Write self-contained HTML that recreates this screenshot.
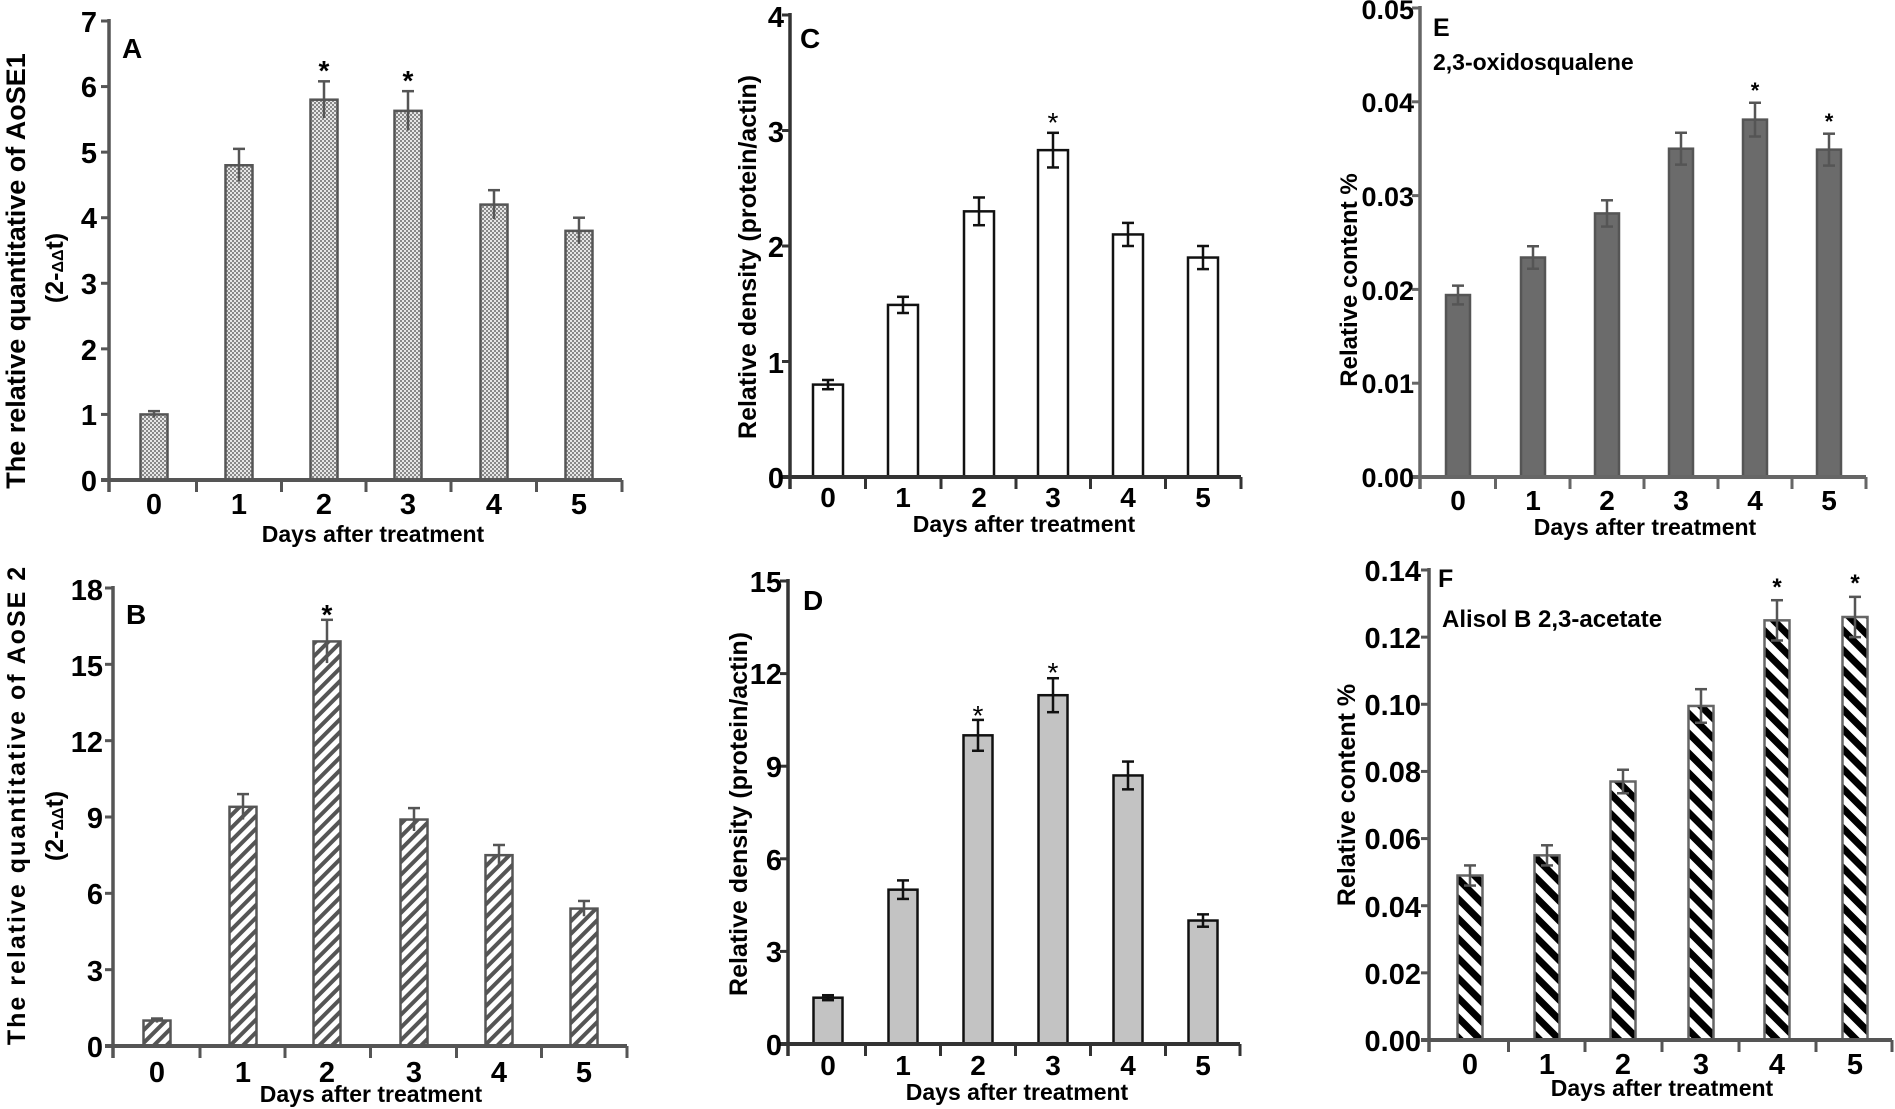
<!DOCTYPE html>
<html><head><meta charset="utf-8"><style>
html,body{margin:0;padding:0;background:#fff;}
svg{display:block;font-family:"Liberation Sans",sans-serif;font-weight:bold;}
.n{font-family:"Liberation Sans Narrow","Liberation Sans",sans-serif;}
</style></head><body>
<svg id="s" width="1895" height="1109" viewBox="0 0 1895 1109" xmlns="http://www.w3.org/2000/svg">
<defs>
<pattern id="chk" width="4" height="4" patternUnits="userSpaceOnUse"><rect width="4" height="4" fill="#e6e6e6"/><rect width="2" height="2" fill="#888"/><rect x="2" y="2" width="2" height="2" fill="#888"/></pattern>
<pattern id="hb" width="9" height="9" patternUnits="userSpaceOnUse" patternTransform="rotate(45)"><rect width="9" height="9" fill="#fff"/><rect width="4" height="9" fill="#555"/></pattern>
<pattern id="hf" width="14" height="14" patternUnits="userSpaceOnUse" patternTransform="rotate(-45)"><rect width="14" height="14" fill="#fff"/><rect width="7" height="14" fill="#000"/></pattern>
</defs>
<g id="g"></g>
<!-- Panel A texts -->
<text x="122" y="58" font-size="28">A</text>
<text x="373" y="542" font-size="23" text-anchor="middle">Days after treatment</text>
<text transform="translate(25,271) rotate(-90)" font-size="27" text-anchor="middle">The relative quantitative of AoSE1</text>
<text transform="translate(63,268) rotate(-90)" font-size="25" text-anchor="middle">(2-<tspan font-size="16">ΔΔ</tspan>t)</text>
<!-- B -->
<text x="126" y="624" font-size="28" class="n">B</text>
<text x="371" y="1102" font-size="23" text-anchor="middle" class="n">Days after treatment</text>
<text transform="translate(25,805) rotate(-90)" font-size="25" text-anchor="middle" letter-spacing="2">The relative quantitative of AoSE 2</text>
<text transform="translate(63,826) rotate(-90)" font-size="25" text-anchor="middle">(2-<tspan font-size="16">ΔΔ</tspan>t)</text>
<!-- C -->
<text x="800" y="48" font-size="28" class="n">C</text>
<text x="1024" y="532" font-size="23" text-anchor="middle" class="n">Days after treatment</text>
<text transform="translate(756,257) rotate(-90)" font-size="25" text-anchor="middle">Relative density (protein/actin)</text>
<!-- D -->
<text x="803" y="610" font-size="28" class="n">D</text>
<text x="1017" y="1100" font-size="23" text-anchor="middle" class="n">Days after treatment</text>
<text transform="translate(747,814) rotate(-90)" font-size="25" text-anchor="middle">Relative density (protein/actin)</text>
<!-- E -->
<text x="1433" y="36" font-size="25" class="n">E</text>
<text x="1433" y="70" font-size="23" class="n">2,3-oxidosqualene</text>
<text x="1645" y="535" font-size="23" text-anchor="middle" class="n">Days after treatment</text>
<text transform="translate(1357,280) rotate(-90)" font-size="24" text-anchor="middle">Relative content %</text>
<!-- F -->
<text x="1438" y="587" font-size="25">F</text>
<text x="1442" y="627" font-size="24" style="font-weight:600">Alisol B 2,3-acetate</text>
<text x="1662" y="1096" font-size="23" text-anchor="middle">Days after treatment</text>
<text transform="translate(1355,795) rotate(-90)" font-size="25" text-anchor="middle">Relative content %</text>
</svg>
<script>
var g=document.getElementById('g'),NS='http://www.w3.org/2000/svg';
function el(n,a){var e=document.createElementNS(NS,n);for(var k in a)e.setAttribute(k,a[k]);g.appendChild(e);return e;}
function P(o){
 var sc=function(v){return o.y0-(v/o.max)*(o.y0-o.yt);};
 for(var i=0;i<6;i++){var c=o.cx[i],v=o.v[i],e=o.e[i],y=sc(v);
  el('rect',{x:c-o.w/2,y:y,width:o.w,height:o.y0-y,fill:o.fill,stroke:o.st,'stroke-width':o.sw||2.5});
  var yt=sc(v+e),yb=sc(v-e);
  el('line',{x1:c,y1:yt,x2:c,y2:yb,stroke:o.ec,'stroke-width':2.5});
  el('line',{x1:c-6,y1:yt,x2:c+6,y2:yt,stroke:o.ec,'stroke-width':2.5});
  if(o.both)el('line',{x1:c-6,y1:yb,x2:c+6,y2:yb,stroke:o.ec,'stroke-width':2.5});
 }
 el('line',{x1:o.x0,y1:o.yt-2,x2:o.x0,y2:o.y0+12,stroke:o.ac,'stroke-width':3.5});
 el('line',{x1:o.x0-8,y1:o.y0,x2:o.xe,y2:o.y0,stroke:o.ac,'stroke-width':4});
 for(var k=0;k<o.tk.length;k++){var yy=sc(o.tk[k].v);el('line',{x1:o.x0-8,y1:yy,x2:o.x0,y2:yy,stroke:o.ac,'stroke-width':3});}
 var xs=[o.x0];for(i=0;i<5;i++)xs.push((o.cx[i]+o.cx[i+1])/2);xs.push(o.xe);
 xs.forEach(function(x){el('line',{x1:x,y1:o.y0,x2:x,y2:o.y0+12,stroke:o.ac,'stroke-width':3});});
}
P({x0:109,xe:622,yt:21,y0:480,max:7,cx:[154,239,324,408,494,579],w:27,v:[1,4.8,5.8,5.63,4.2,3.8],e:[.05,.25,.28,.3,.22,.2],fill:'url(#chk)',st:'#555',ec:'#555',ac:'#555',tk:[0,1,2,3,4,5,6,7].map(function(v){return{v:v}})});
P({x0:113,xe:627,yt:588,y0:1046,max:18,cx:[157,243,327,414,499,584],w:27,v:[1,9.4,15.9,8.9,7.5,5.4],e:[.08,.5,.85,.45,.4,.3],fill:'url(#hb)',st:'#555',ec:'#555',ac:'#555',tk:[0,3,6,9,12,15,18].map(function(v){return{v:v}})});
P({x0:790,xe:1241,yt:15,y0:477,max:4,cx:[828,903,979,1053,1128,1203],w:30,v:[.8,1.49,2.3,2.83,2.1,1.9],e:[.04,.07,.12,.15,.1,.1],fill:'#fff',st:'#111',ec:'#111',ac:'#333',both:1,tk:[0,1,2,3,4].map(function(v){return{v:v}})});
P({x0:788,xe:1240,yt:581,y0:1044,max:15,cx:[828,903,978,1053,1128,1203],w:29,v:[1.5,5,10,11.3,8.7,4],e:[.08,.3,.5,.55,.45,.2],fill:'#c3c3c3',st:'#111',ec:'#111',ac:'#333',both:1,tk:[0,3,6,9,12,15].map(function(v){return{v:v}})});
P({x0:1420,xe:1866,yt:8,y0:477,max:.05,cx:[1458,1533,1607,1681,1755,1829],w:24,v:[.0194,.0234,.0281,.035,.0381,.0349],e:[.001,.0012,.0014,.0017,.0018,.0017],fill:'#6b6b6b',st:'#555',ec:'#555',ac:'#666',both:1,tk:[0,.01,.02,.03,.04,.05].map(function(v){return{v:v}})});
P({x0:1429,xe:1892,yt:570,y0:1040,max:.14,cx:[1470,1547,1623,1701,1777,1855],w:25,v:[.049,.055,.077,.0995,.125,.126],e:[.003,.003,.0035,.005,.006,.006],fill:'url(#hf)',st:'#666',ec:'#555',ac:'#555',both:1,tk:[0,.02,.04,.06,.08,.1,.12,.14].map(function(v){return{v:v}})});
</script>
<div style="position:absolute;left:0;top:0;width:1895px;height:1109px;pointer-events:none">
<svg width="1895" height="1109" viewBox="0 0 1895 1109" style="font-family:'Liberation Sans',sans-serif;font-weight:bold">
<g font-size="29" text-anchor="end">
<text x="97" y="491">0</text><text x="97" y="425">1</text><text x="97" y="360">2</text><text x="97" y="294">3</text><text x="97" y="228">4</text><text x="97" y="163">5</text><text x="97" y="97">6</text><text x="97" y="32">7</text>
</g>
<g font-size="29" text-anchor="middle">
<text x="154" y="514">0</text><text x="239" y="514">1</text><text x="324" y="514">2</text><text x="408" y="514">3</text><text x="494" y="514">4</text><text x="579" y="514">5</text>
</g>
<g font-size="28" text-anchor="middle"><text x="324" y="80">*</text><text x="408" y="90">*</text></g>
<g font-size="29" text-anchor="end" font-family="Liberation Sans Narrow,Liberation Sans,sans-serif">
<text x="103" y="1057">0</text><text x="103" y="981">3</text><text x="103" y="904">6</text><text x="103" y="828">9</text><text x="103" y="752">12</text><text x="103" y="676">15</text><text x="103" y="600">18</text>
</g>
<g font-size="29" text-anchor="middle" font-family="Liberation Sans Narrow,Liberation Sans,sans-serif">
<text x="157" y="1082">0</text><text x="243" y="1082">1</text><text x="327" y="1082">2</text><text x="414" y="1082">3</text><text x="499" y="1082">4</text><text x="584" y="1082">5</text>
</g>
<g font-size="28" text-anchor="middle"><text x="327" y="624">*</text></g>
<g font-size="29" text-anchor="end" font-family="Liberation Sans Narrow,Liberation Sans,sans-serif">
<text x="784" y="488">0</text><text x="784" y="373">1</text><text x="784" y="257">2</text><text x="784" y="142">3</text><text x="784" y="27">4</text>
</g>
<g font-size="28" text-anchor="middle" font-family="Liberation Sans Narrow,Liberation Sans,sans-serif">
<text x="828" y="507">0</text><text x="903" y="507">1</text><text x="979" y="507">2</text><text x="1053" y="507">3</text><text x="1128" y="507">4</text><text x="1203" y="507">5</text>
</g>
<g font-size="28" text-anchor="middle" font-weight="normal"><text x="1053" y="132">*</text></g>
<g font-size="29" text-anchor="end" font-family="Liberation Sans Narrow,Liberation Sans,sans-serif">
<text x="782" y="1055">0</text><text x="782" y="962">3</text><text x="782" y="870">6</text><text x="782" y="777">9</text><text x="782" y="684">12</text><text x="782" y="592">15</text>
</g>
<g font-size="28" text-anchor="middle" font-family="Liberation Sans Narrow,Liberation Sans,sans-serif">
<text x="828" y="1075">0</text><text x="903" y="1075">1</text><text x="978" y="1075">2</text><text x="1053" y="1075">3</text><text x="1128" y="1075">4</text><text x="1203" y="1075">5</text>
</g>
<g font-size="28" text-anchor="middle" font-weight="normal"><text x="978" y="725">*</text><text x="1053" y="682">*</text></g>
<g font-size="27" text-anchor="end" font-family="Liberation Sans Narrow,Liberation Sans,sans-serif">
<text x="1414" y="487">0.00</text><text x="1414" y="393">0.01</text><text x="1414" y="300">0.02</text><text x="1414" y="206">0.03</text><text x="1414" y="112">0.04</text><text x="1414" y="19">0.05</text>
</g>
<g font-size="28" text-anchor="middle" font-family="Liberation Sans Narrow,Liberation Sans,sans-serif">
<text x="1458" y="510">0</text><text x="1533" y="510">1</text><text x="1607" y="510">2</text><text x="1681" y="510">3</text><text x="1755" y="510">4</text><text x="1829" y="510">5</text>
</g>
<g font-size="22" text-anchor="middle"><text x="1755" y="98">*</text><text x="1829" y="129">*</text></g>
<g font-size="29" text-anchor="end">
<text x="1421" y="1051">0.00</text><text x="1421" y="984">0.02</text><text x="1421" y="917">0.04</text><text x="1421" y="849">0.06</text><text x="1421" y="782">0.08</text><text x="1421" y="715">0.10</text><text x="1421" y="648">0.12</text><text x="1421" y="581">0.14</text>
</g>
<g font-size="29" text-anchor="middle">
<text x="1470" y="1074">0</text><text x="1547" y="1074">1</text><text x="1623" y="1074">2</text><text x="1701" y="1074">3</text><text x="1777" y="1074">4</text><text x="1855" y="1074">5</text>
</g>
<g font-size="24" text-anchor="middle"><text x="1777" y="595">*</text><text x="1855" y="591">*</text></g>
</svg></div>
</body></html>
